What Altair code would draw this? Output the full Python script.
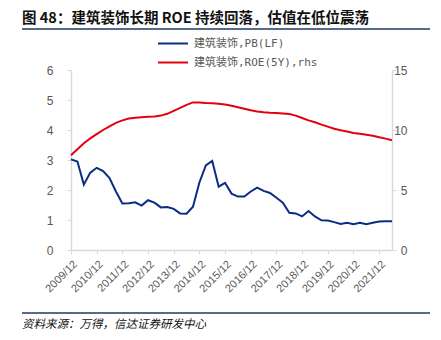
import altair as alt
import pandas as pd

TITLE = "图 48：建筑装饰长期 ROE 持续回落，估值在低位震荡"
SOURCE = "资料来源：万得，信达证券研发中心"
PB_NAME = "建筑装饰,PB(LF)"
ROE_NAME = "建筑装饰,ROE(5Y),rhs"

# quarterly periods 2009/12 .. 2022/06
PERIODS = ["2009/12"] + [f"{y}/{m:02d}" for y in range(2010, 2023) for m in (3, 6, 9, 12)][:50]
YEAR_TICKS = ["2009/12", "2010/12", "2011/12", "2012/12", "2013/12", "2014/12", "2015/12",
              "2016/12", "2017/12", "2018/12", "2019/12", "2020/12", "2021/12"]

PB = [3.02, 2.95, 2.18, 2.58, 2.74, 2.63, 2.40, 1.95, 1.55, 1.56, 1.59, 1.48, 1.66, 1.58,
      1.42, 1.43, 1.37, 1.22, 1.21, 1.44, 2.25, 2.82, 2.97, 2.11, 2.24, 1.88, 1.78, 1.78,
      1.95, 2.08, 1.97, 1.90, 1.74, 1.58, 1.24, 1.22, 1.12, 1.30, 1.12, 0.99, 0.98, 0.93,
      0.87, 0.91, 0.86, 0.91, 0.86, 0.91, 0.95, 0.96, 0.96]
ROE = [7.9, 8.4, 8.9, 9.3, 9.65, 10.0, 10.3, 10.6, 10.8, 10.95, 11.03, 11.06, 11.1, 11.13,
       11.2, 11.35, 11.6, 11.85, 12.1, 12.3, 12.3, 12.25, 12.22, 12.18, 12.12, 12.02, 11.9,
       11.77, 11.65, 11.55, 11.47, 11.43, 11.42, 11.38, 11.33, 11.2, 11.0, 10.8, 10.65, 10.45,
       10.28, 10.1, 9.98, 9.88, 9.75, 9.68, 9.6, 9.52, 9.4, 9.28, 9.15]

NAVY = "#0B2C84"
RED = "#E3000F"
GRAY_AX = "#D9D9D9"
GRAY_TXT = "#595959"

pb_df = pd.DataFrame({"period": PERIODS, "value": PB, "series": PB_NAME})
roe_df = pd.DataFrame({"period": PERIODS, "value": ROE, "series": ROE_NAME})

x_enc = alt.X("period:O", sort=None,
              scale=alt.Scale(type="point", padding=0),
              axis=alt.Axis(values=YEAR_TICKS, labelAngle=-45, title=None,
                            labelFont="Liberation Sans", labelFontSize=11,
                            labelColor=GRAY_TXT, domainColor=GRAY_AX, domainWidth=1.5,
                            tickColor=GRAY_AX, tickSize=4, labelPadding=4, grid=False))

color_enc = alt.Color("series:N",
                      scale=alt.Scale(domain=[PB_NAME, ROE_NAME], range=[NAVY, RED]),
                      legend=alt.Legend(orient="none", legendX=86, legendY=-36, title=None,
                                        symbolType="stroke", symbolSize=900,
                                        symbolStrokeWidth=2, labelFont="DejaVu Sans Mono, Noto Sans CJK SC",
                                        labelFontSize=11, labelColor=GRAY_TXT, labelOffset=5,
                                        clipHeight=19, rowPadding=0))

pb_line = alt.Chart(pb_df).mark_line(strokeWidth=2).encode(
    x=x_enc,
    y=alt.Y("value:Q", scale=alt.Scale(domain=[0, 6], nice=False),
            axis=alt.Axis(orient="left", values=[0, 1, 2, 3, 4, 5, 6], title=None, grid=False,
                          labelFont="Liberation Sans", labelFontSize=12, labelColor=GRAY_TXT,
                          domainColor=GRAY_AX, domainWidth=1.5, tickColor=GRAY_AX, tickSize=4,
                          labelPadding=14)),
    color=color_enc,
)

roe_line = alt.Chart(roe_df).mark_line(strokeWidth=2).encode(
    x=x_enc,
    y=alt.Y("value:Q", scale=alt.Scale(domain=[0, 15], nice=False),
            axis=alt.Axis(orient="right", values=[0, 5, 10, 15], title=None, grid=False,
                          labelFont="Liberation Sans", labelFontSize=12, labelColor=GRAY_TXT,
                          domainColor=GRAY_AX, domainWidth=1.5, tickColor=GRAY_AX, tickSize=4,
                          labelAlign="right", labelPadding=11)),
    color=color_enc,
)

title_df = pd.DataFrame({"t": [TITLE]})
source_df = pd.DataFrame({"t": [SOURCE]})

title_txt = alt.Chart(title_df).mark_text(
    align="left", baseline="middle", font="Noto Sans CJK SC", fontSize=14.5,
    fontWeight="bold", color="#111111").encode(
    text="t:N", x=alt.value(-49), y=alt.value(-51))

source_txt = alt.Chart(source_df).mark_text(
    align="left", baseline="middle", font="Noto Sans CJK SC", fontSize=11.5,
    fontStyle="italic", color="#111111").encode(
    text="t:N", x=alt.value(-49), y=alt.value(255))

rule_top = alt.Chart(title_df).mark_rule(color="#1F3864", strokeWidth=1.5).encode(
    x=alt.value(-49), x2=alt.value(359), y=alt.value(-41))
rule_bot = alt.Chart(source_df).mark_rule(color="#1F3864", strokeWidth=1.5).encode(
    x=alt.value(-49), x2=alt.value(359), y=alt.value(243))

chart = alt.layer(pb_line, roe_line, title_txt, source_txt, rule_top, rule_bot).resolve_scale(
    y="independent"
).properties(
    width=321, height=180,
    autosize=alt.AutoSizeParams(type="none"),
    padding={"left": 71, "top": 70, "right": 49, "bottom": 90},
    background="white",
).configure_view(stroke=None)

chart.save("out.html", embed_options={"renderer": "svg", "actions": False})
